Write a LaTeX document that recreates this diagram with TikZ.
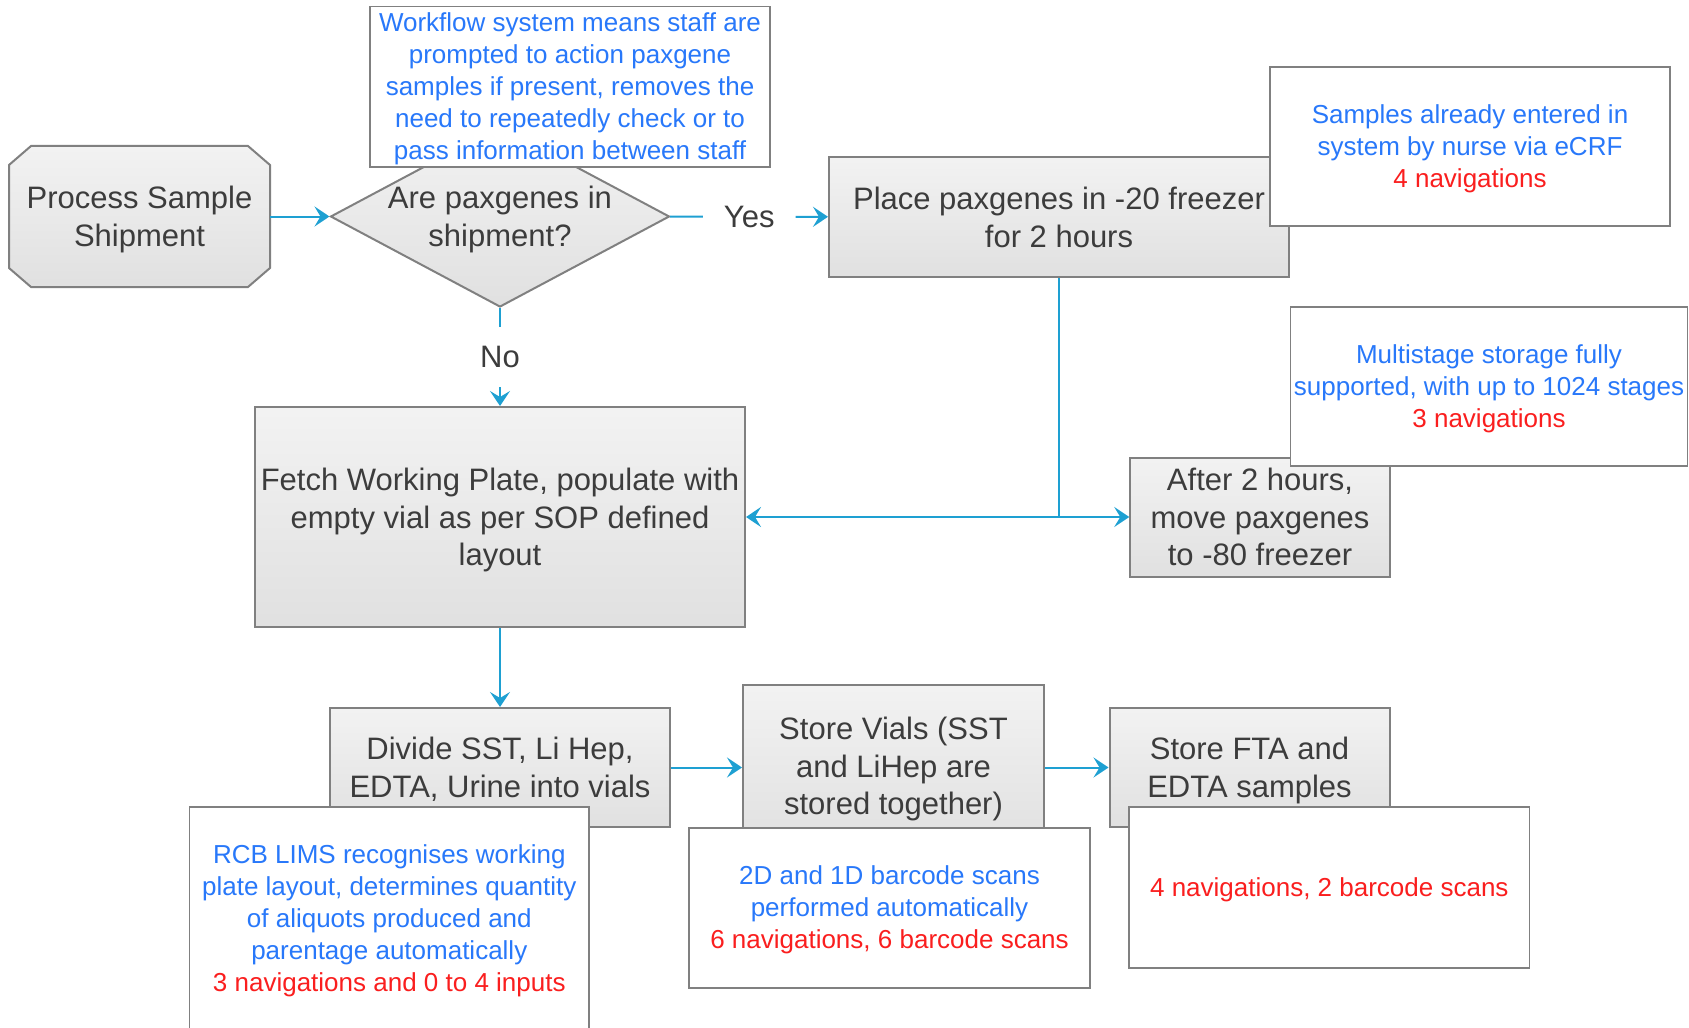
\documentclass[tikz,border=0pt]{standalone}
\usepackage{fontspec}
\setmainfont{Liberation Sans}
\usepackage{tikz}
\usepackage{xcolor}
\usetikzlibrary{
    arrows.meta,
    shapes,
    shapes.geometric,
    calc,
    positioning
}
\definecolor{flowblue}{RGB}{30,160,210}
\definecolor{noteblue}{RGB}{40,120,250}
\definecolor{notered}{RGB}{250,30,30}
\definecolor{boxline}{RGB}{128,128,128}
\definecolor{boxtext}{RGB}{60,60,60}
\tikzset{
    boxfill/.style={draw=boxline, line width=1pt, top color=black!5, bottom color=black!12},
    steptext/.style={text=boxtext, align=center, font=\fontsize{15.5}{18.85}\selectfont, inner sep=0pt},
    steprows/.style={text height={14.5pt+(#1-1)*18.85pt}, text depth=3.3pt},
    stepbox/.style={boxfill, steptext},
    notebox/.style={draw=boxline, line width=0.8pt, fill=white, text=noteblue, align=center,
        font=\fontsize{13}{16}\selectfont, inner sep=0pt},
    noterows/.style={text height={12pt+(#1-1)*16pt}, text depth=2.75pt},
    flow/.style={draw=flowblue, line width=1pt, -{Stealth[length=7.5pt, width=10pt, inset=3pt]}},
    plain/.style={draw=flowblue, line width=1pt},
    answer/.style={text=boxtext, font=\fontsize{15.5}{18.85}\selectfont, inner sep=0pt,
        minimum width=46pt, minimum height=30pt}
}

\begin{document}
\begin{tikzpicture}[x=0.5pt, y=0.5pt]
    \useasboundingbox (0, 0) rectangle (1689, -1027);
    \shade[boxfill] (31, -146) -- (248, -146) -- (270, -165) -- (270, -268) -- (248, -287)
        -- (31, -287) -- (9, -268) -- (9, -165) -- cycle;
    \node[steptext, steprows=2, minimum width=130.5pt, minimum height=70.5pt] (proc) at (139.5, -216.5) {Process Sample\\Shipment};
    \node[boxfill, diamond, minimum width=169.5pt, minimum height=90.5pt, inner sep=0pt] (dia) at (500, -216.5) {};
    \node[steptext, steprows=2] (diatext) at (dia) {Are paxgenes in\\shipment?};
    \node[stepbox, steprows=2, minimum width=230pt, minimum height=60pt] (place) at (1059, -217) {Place paxgenes in -20 freezer\\for 2 hours};
    \node[stepbox, steprows=3, minimum width=129.75pt, minimum height=59.5pt] (after) at (1260, -517) {After 2 hours,\\move paxgenes\\to -80 freezer};
    \node[stepbox, steprows=3, minimum width=245pt, minimum height=110pt] (fetch) at (500, -517) {Fetch Working Plate, populate with\\empty vial as per SOP defined\\layout};
    \node[stepbox, steprows=2, minimum width=170.2pt, minimum height=59.5pt] (divide) at (500, -767.5) {Divide SST, Li Hep,\\EDTA, Urine into vials};
    \node[stepbox, steprows=3, minimum width=150.5pt, minimum height=81pt] (vials) at (893.5, -766) {Store Vials (SST\\and LiHep are\\stored together)};
    \node[stepbox, steprows=2, minimum width=140pt, minimum height=59.5pt] (fta) at (1249.5, -767.5) {Store FTA and\\EDTA samples};

    \node[answer] (yes) at ($(dia.east)!0.5!(place.west)$) {Yes};
    \node[answer] (no) at ($(dia.south)!0.5!(fetch.north)$) {No};
    \coordinate (split) at (place.south |- fetch.east);

    \draw[flow] (proc) -- (dia);
    \draw[plain] (dia) -- (yes);
    \draw[flow] (yes) -- (place);
    \draw[plain] (dia) -- (no);
    \draw[flow] (no) -- (fetch);
    \draw[plain] (place.south) -- (split);
    \draw[flow] (split) -- (fetch.east);
    \draw[flow] (split) -- (after.west);
    \draw[flow] (fetch) -- (divide);
    \draw[flow] (divide.east) -- (divide.east -| vials.west);
    \draw[flow] (vials.east |- divide.east) -- (fta.west |- divide.east);

    \node[notebox, noterows=5, minimum width=200.25pt, minimum height=80.25pt] (note1) at (570, -86.75)
        {Workflow system means staff are\\prompted to action paxgene\\samples if present, removes the\\need to repeatedly check or to\\pass information between staff};
    \node[notebox, noterows=3, minimum width=200pt, minimum height=79.5pt] (note2) at (1470, -146.5)
        {Samples already entered in\\system by nurse via eCRF\\{\color{notered}4 navigations}};
    \node[notebox, noterows=3, minimum width=198.5pt, minimum height=79.5pt] (note3) at (1489, -386.5)
        {Multistage storage fully\\supported, with up to 1024 stages\\{\color{notered}3 navigations}};
    \node[notebox, noterows=5, minimum width=199.7pt, minimum height=111.5pt] (note4) at (389.3, -918.5)
        {RCB LIMS recognises working\\plate layout, determines quantity\\of aliquots produced and\\parentage automatically\\{\color{notered}3 navigations and 0 to 4 inputs}};
    \node[notebox, noterows=3, minimum width=200.5pt, minimum height=80pt] (note5) at (889.5, -907.7)
        {2D and 1D barcode scans\\performed automatically\\{\color{notered}6 navigations, 6 barcode scans}};
    \node[notebox, noterows=1, minimum width=200.3pt, minimum height=80.6pt] (note6) at (1329.3, -887.3)
        {{\color{notered}4 navigations, 2 barcode scans}};
\end{tikzpicture}
\end{document}
